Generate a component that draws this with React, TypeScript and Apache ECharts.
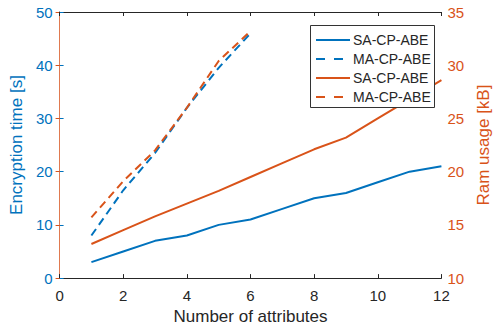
import React, { useEffect, useRef } from "react";
import * as echarts from "echarts";

const attributes = [1, 2, 3, 4, 5, 6, 7, 8, 9, 10, 11, 12];
const saTime = [3, 5, 7, 8, 10, 11, 13, 15, 16, 18, 20, 21];
const maTime = [8, 16.5, 23.5, 32, 39.5, 46];
const saRam = [13.2, 14.5, 15.8, 17.0, 18.2, 19.5, 20.8, 22.1, 23.2, 25.0, 26.8, 28.6];
const maRam = [15.7, 19.1, 22.0, 26.0, 30.4, 33.2];
const legendNames = ["SA-CP-ABE", "MA-CP-ABE", "SA-CP-ABE", "MA-CP-ABE"];

const BLUE = "#0072BD";
const RED = "#D95319";
const DARK = "#262626";
const FONT = "'Liberation Sans', Arial, Helvetica, sans-serif";

const pairs = (ys: number[]) => ys.map((y, i) => [attributes[i], y]);

export default function App() {
  const ref = useRef<HTMLDivElement>(null);
  useEffect(() => {
    if (!ref.current) return;
    const chart = echarts.init(ref.current, undefined, { renderer: "svg" });
    const legendColors = [BLUE, BLUE, RED, RED];
    const legendDashed = [false, true, false, true];
    const legendGraphic: any[] = [
      {
        type: "rect",
        shape: { x: 310.5, y: 25.5, width: 124, height: 82 },
        style: { fill: "#fff", stroke: "#333", lineWidth: 1 },
        z: 100,
      },
    ];
    legendNames.forEach((n, i) => {
      const y = 40 + i * 19;
      legendGraphic.push({
        type: "line",
        shape: { x1: 316, y1: y, x2: legendDashed[i] ? 343 : 350, y2: y },
        style: {
          stroke: legendColors[i],
          lineWidth: 2,
          lineDash: legendDashed[i] ? [9, 9] : null,
        },
        z: 101,
      });
      legendGraphic.push({
        type: "text",
        x: 353,
        y,
        style: {
          text: n,
          fill: DARK,
          font: `14px ${FONT}`,
          textVerticalAlign: "middle",
        },
        z: 101,
      });
    });

    chart.setOption({
      animation: false,
      textStyle: { fontFamily: FONT },
      grid: { left: 52.5, right: 51, top: 12, bottom: 51, containLabel: false },
      xAxis: [
        {
          type: "value",
          min: 0,
          max: 12,
          interval: 2,
          position: "bottom",
          name: "Number of attributes",
          nameLocation: "middle",
          nameGap: 26,
          nameTextStyle: { color: DARK, fontSize: 17, fontFamily: FONT },
          axisLine: { show: true, lineStyle: { color: DARK, width: 1 } },
          axisTick: { show: true, inside: true, length: 4, lineStyle: { color: DARK } },
          axisLabel: { color: DARK, fontSize: 15, margin: 10, fontFamily: FONT },
          splitLine: { show: false },
        },
        {
          type: "value",
          min: 0,
          max: 12,
          interval: 2,
          position: "top",
          axisLine: { show: true, lineStyle: { color: DARK, width: 1 } },
          axisTick: { show: true, inside: true, length: 4, lineStyle: { color: DARK } },
          axisLabel: { show: false },
          splitLine: { show: false },
        },
      ],
      yAxis: [
        {
          type: "value",
          min: 0,
          max: 50,
          interval: 10,
          position: "left",
          name: "Encryption time [s]",
          nameLocation: "middle",
          nameGap: 29,
          nameTextStyle: { color: BLUE, fontSize: 17, fontFamily: FONT },
          axisLine: { show: true, lineStyle: { color: BLUE, width: 1 } },
          axisTick: { show: true, inside: true, length: 4, lineStyle: { color: BLUE } },
          axisLabel: { color: BLUE, fontSize: 15, margin: 7, fontFamily: FONT },
          splitLine: { show: false },
        },
        {
          type: "value",
          min: 10,
          max: 35,
          interval: 5,
          position: "right",
          name: "Ram usage [kB]",
          nameLocation: "middle",
          nameGap: 32,
          nameTextStyle: { color: RED, fontSize: 17, fontFamily: FONT },
          axisLine: { show: true, lineStyle: { color: "#E07A50", width: 1 } },
          axisTick: { show: true, inside: true, length: 4, lineStyle: { color: RED } },
          axisLabel: { color: RED, fontSize: 15, margin: 6, fontFamily: FONT },
          splitLine: { show: false },
        },
      ],
      series: [
        {
          name: "SA-CP-ABE",
          type: "line",
          xAxisIndex: 0,
          yAxisIndex: 0,
          data: pairs(saTime),
          showSymbol: false,
          lineStyle: { color: BLUE, width: 2 },
          itemStyle: { color: BLUE },
        },
        {
          name: "MA-CP-ABE",
          type: "line",
          xAxisIndex: 0,
          yAxisIndex: 0,
          data: pairs(maTime),
          showSymbol: false,
          lineStyle: { color: BLUE, width: 2, type: [8, 5] },
          itemStyle: { color: BLUE },
        },
        {
          name: "SA-CP-ABE",
          type: "line",
          xAxisIndex: 0,
          yAxisIndex: 1,
          data: pairs(saRam),
          showSymbol: false,
          lineStyle: { color: RED, width: 2 },
          itemStyle: { color: RED },
        },
        {
          name: "MA-CP-ABE",
          type: "line",
          xAxisIndex: 0,
          yAxisIndex: 1,
          data: pairs(maRam),
          showSymbol: false,
          lineStyle: { color: RED, width: 2, type: [8, 5] },
          itemStyle: { color: RED },
        },
      ],
      graphic: legendGraphic,
    });
    return () => chart.dispose();
  }, []);
  return (
    <div
      ref={ref}
      style={{ position: "fixed", left: 0, top: 0, width: 500, height: 330, background: "#fff" }}
    />
  );
}
